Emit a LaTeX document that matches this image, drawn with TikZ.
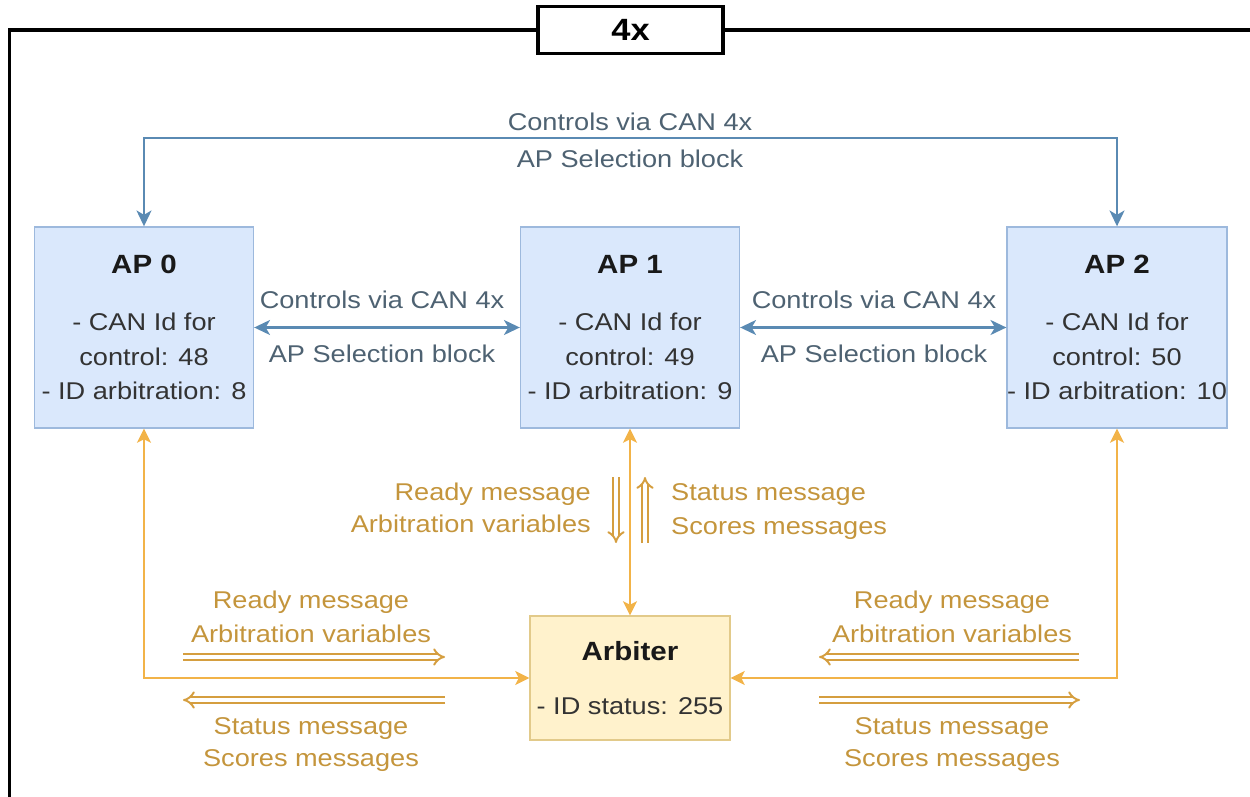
\documentclass[tikz,border=0pt]{standalone}
\usepackage{fontspec}
\setmainfont{Liberation Sans}[FakeStretch=1.12]
\usetikzlibrary{arrows.meta}

\definecolor{ctrlblue}{HTML}{5A8AB3}
\definecolor{ctrltext}{HTML}{4E6272}
\definecolor{apfill}{HTML}{DAE8FC}
\definecolor{apedge}{HTML}{9DB9DD}
\definecolor{arbfill}{HTML}{FFF2CC}
\definecolor{arbedge}{HTML}{E2CA8A}
\definecolor{msgline}{HTML}{F2B348}
\definecolor{msgtext}{HTML}{C4953C}

\newcommand\boxhead[1]{{\bfseries\fontsize{15}{20}\selectfont\color{black!90}#1}}

\begin{document}
\begin{tikzpicture}[
  x=0.02cm, y=-0.02cm,
  frame/.style={black, line width=2.2pt},
  titlebox/.style={draw, line width=2.2pt, fill=white, minimum width=3.7cm, minimum height=0.94cm, font=\bfseries\fontsize{17.5}{20}\selectfont},
  apbox/.style={draw=apedge, fill=apfill, line width=0.8pt, minimum width=4.38cm, minimum height=4.02cm, inner sep=0pt, align=center, text=black!80, font=\fontsize{13.8}{19.6}\selectfont},
  arbbox/.style={draw=arbedge, fill=arbfill, line width=0.8pt, minimum width=4cm, minimum height=2.48cm, inner sep=0pt, align=center, text=black!80, font=\fontsize{13.8}{19.6}\selectfont},
  ctrl/.style={ctrlblue, line width=1.4pt, >={Stealth[length=9pt,width=8.5pt,inset=2.5pt]}, <->},
  link/.style={msgline, line width=1.2pt, >={Stealth[length=8pt,width=8pt,inset=2pt]}, <->},
  msg/.style={msgline!88!black, double=white, double distance=2.2pt, line width=1.1pt, -{Implies[length=5pt]}},
  ctrllabel/.style={text=ctrltext, anchor=base, font=\fontsize{13.8}{16}\selectfont},
  msglabel/.style={text=msgtext, anchor=base, font=\fontsize{13.8}{16}\selectfont}
]
  \useasboundingbox (0,0) rectangle (1250,797);

  % frame with repeat count
  \node[titlebox] (title) at (630.5,30) {4x};
  \coordinate (fsw) at (9.5,797);
  \coordinate (fne) at (1250,30);
  \draw[frame] (fsw) |- (title.west);
  \draw[frame] (title.east) -- (fne);

  % processors
  \node[apbox] (ap0) at (144,327.5) {\boxhead{AP 0}\\[13pt] - CAN Id for\\ control: 48\\ - ID arbitration: 8};
  \node[apbox] (ap1) at (630,327.5) {\boxhead{AP 1}\\[13pt] - CAN Id for\\ control: 49\\ - ID arbitration: 9};
  \node[apbox] (ap2) at (1117,327.5) {\boxhead{AP 2}\\[13pt] - CAN Id for\\ control: 50\\ - ID arbitration: 10};
  \node[arbbox] (arb) at (630,678) {\boxhead{Arbiter}\\[11.3pt] - ID status: 255};

  % control links
  \coordinate (bus) at (630,138);
  \draw[ctrl] (ap0.north) |- (bus) -| (ap2.north);
  \draw[ctrl] (ap0.east) -- (ap1.west);
  \draw[ctrl] (ap1.east) -- (ap2.west);
  \node[ctrllabel] (busup) at (630,131) {Controls via CAN 4x};
  \node[ctrllabel] (buslo) at (630,168) {AP Selection block};
  \node[ctrllabel] (l01up) at (382,308) {Controls via CAN 4x};
  \node[ctrllabel] (l01lo) at (382,362) {AP Selection block};
  \node[ctrllabel] (l12up) at (874,308) {Controls via CAN 4x};
  \node[ctrllabel] (l12lo) at (874,362) {AP Selection block};

  % arbitration links
  \draw[link] (ap0.south) |- (arb.west);
  \draw[link] (ap1.south) -- (arb.north);
  \draw[link] (ap2.south) |- (arb.east);

  % message directions
  \coordinate (m0a) at (183,657);  \coordinate (m0b) at (445,657);
  \coordinate (m1a) at (445,700);  \coordinate (m1b) at (183,700);
  \coordinate (m2a) at (1079,657); \coordinate (m2b) at (819,657);
  \coordinate (m3a) at (819,700);  \coordinate (m3b) at (1080,700);
  \coordinate (m4a) at (616,477);  \coordinate (m4b) at (616,543);
  \coordinate (m5a) at (645,543);  \coordinate (m5b) at (645,477);
  \draw[msg] (m0a) -- (m0b);
  \draw[msg] (m1a) -- (m1b);
  \draw[msg] (m2a) -- (m2b);
  \draw[msg] (m3a) -- (m3b);
  \draw[msg] (m4a) -- (m4b);
  \draw[msg] (m5a) -- (m5b);

  \node[msglabel, anchor=base east] (crdy) at (597,500) {Ready message};
  \node[msglabel, anchor=base east] (cvar) at (597,532) {Arbitration variables};
  \node[msglabel, anchor=base west] (csts) at (665,500) {Status message};
  \node[msglabel, anchor=base west] (cscr) at (665,534) {Scores messages};
  \node[msglabel] (lrdy) at (311,608) {Ready message};
  \node[msglabel] (lvar) at (311,642) {Arbitration variables};
  \node[msglabel] (lsts) at (311,734) {Status message};
  \node[msglabel] (lscr) at (311,766) {Scores messages};
  \node[msglabel] (rrdy) at (952,608) {Ready message};
  \node[msglabel] (rvar) at (952,642) {Arbitration variables};
  \node[msglabel] (rsts) at (952,734) {Status message};
  \node[msglabel] (rscr) at (952,766) {Scores messages};
\end{tikzpicture}
\end{document}
